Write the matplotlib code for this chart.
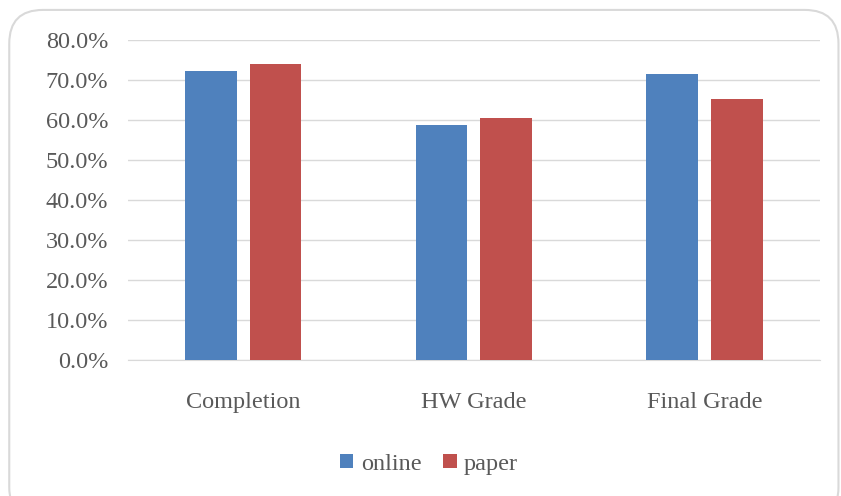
import matplotlib
matplotlib.use("Agg")
import matplotlib.pyplot as plt
from matplotlib.patches import FancyBboxPatch
from matplotlib.ticker import PercentFormatter
import numpy as np

# data
categories = ["Completion", "HW Grade", "Final Grade"]
online = [0.724, 0.587, 0.715]
paper = [0.741, 0.606, 0.652]

plt.rcParams['font.family'] = ['Liberation Serif', 'DejaVu Serif']
txt = '#595959'

fig = plt.figure(figsize=(8.41, 4.96), dpi=100)

# rounded frame around the chart
frame = FancyBboxPatch((0.011, -0.05), 0.986, 1.03, boxstyle="round,pad=0,rounding_size=0.04",
                       transform=fig.transFigure, fc='white', ec='#D9D9D9', lw=1.5,
                       mutation_aspect=841 / 496, zorder=-5)
fig.patches.append(frame)

ax = fig.add_axes([0.152, 0.274, 0.823, 0.645])
ax.set_zorder(2)
ax.set_facecolor('none')
x = np.arange(len(categories))
w = 0.224
ax.bar(x - 0.14, online, w, color='#4F81BD', label='online', zorder=3)
ax.bar(x + 0.14, paper, w, color='#C0504D', label='paper', zorder=3)

ax.set_xlim(-0.5, 2.5)
ax.set_ylim(0, 0.8)
ax.set_yticks(np.arange(0, 0.81, 0.1))
ax.yaxis.set_major_formatter(PercentFormatter(1.0, decimals=1))
ax.grid(axis='y', color='#D9D9D9', lw=1, zorder=0)
for s in ['top', 'right', 'left']:
    ax.spines[s].set_visible(False)
ax.spines['bottom'].set_color('#D9D9D9')
ax.tick_params(axis='y', length=0, pad=14, labelsize=17.5, labelcolor=txt)
ax.tick_params(axis='x', length=0, pad=23, labelsize=17.5, labelcolor=txt)
ax.set_xticks(x)
ax.set_xticklabels(categories)

fig.legend(loc='center', bbox_to_anchor=(0.51, 0.064), ncol=2, frameon=False,
           fontsize=17.5, labelcolor=txt, handlelength=0.55, handleheight=0.55,
           handletextpad=0.3, columnspacing=0.9)

fig.savefig('out.png', dpi=100)
